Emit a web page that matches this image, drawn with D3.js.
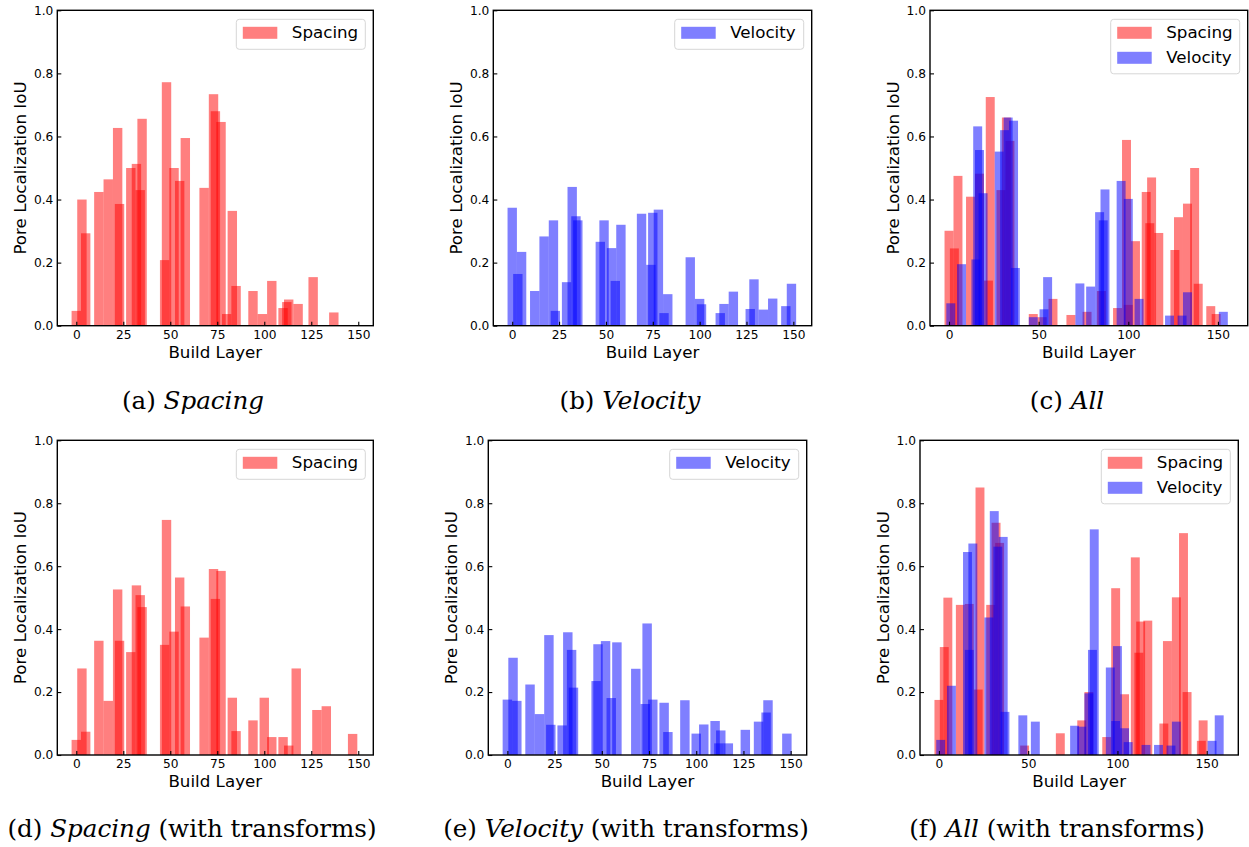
<!DOCTYPE html>
<html>
<head>
<meta charset="utf-8">
<script src="https://d3js.org/d3.v7.min.js"></script>
<style>
  body { margin: 0; background: #fff; }
  .tick text { font-family: "DejaVu Sans", sans-serif; font-size: 12.2px; fill: #000; }
</style>
</head>
<body>
<div id="my_dataviz"></div>
<script>
// (a) spacing
var spacingLayers = [0,3,5,12,17,22,23,29,32,34,35,47,48,52,55,58,68,73,74,77,80,83,85,94,99,104,110,112,113,118,126,137];
var spacingIoU = [0.047,0.40,0.293,0.424,0.464,0.627,0.386,0.50,0.513,0.43,0.656,0.208,0.772,0.50,0.459,0.595,0.437,0.734,0.68,0.646,0.037,0.364,0.126,0.11,0.037,0.142,0.056,0.075,0.083,0.069,0.154,0.042];

// (b) velocity
var velocityLayers = [0,3,5,12,17,22,23,29,32,34,35,47,49,53,55,58,69,74,75,78,81,83,95,100,101,111,113,118,127,129,134,139,146,149];
var velocityIoU = [0.374,0.164,0.234,0.11,0.283,0.334,0.047,0.138,0.44,0.347,0.334,0.266,0.334,0.246,0.142,0.32,0.355,0.193,0.358,0.368,0.04,0.1,0.217,0.085,0.068,0.04,0.069,0.108,0.053,0.147,0.051,0.086,0.062,0.133];

// (c) all
var allSpacingLayers = [0,3,5,12,17,22,23,29,32,34,47,52,58,68,77,85,94,99,100,104,110,112,113,117,126,128,133,137,139,146,149];
var allSpacingIoU = [0.301,0.245,0.475,0.409,0.482,0.143,0.725,0.43,0.66,0.586,0.037,0.027,0.085,0.034,0.044,0.11,0.056,0.589,0.066,0.268,0.424,0.325,0.47,0.294,0.24,0.344,0.387,0.5,0.133,0.062,0.037];
var allVelocityLayers = [1,7,15,16,17,19,28,31,33,36,37,47,53,55,73,79,84,86,87,96,100,106,123,130,133,153];
var allVelocityIoU = [0.071,0.195,0.21,0.632,0.557,0.42,0.552,0.62,0.66,0.65,0.183,0.027,0.052,0.154,0.134,0.124,0.36,0.334,0.432,0.459,0.402,0.085,0.032,0.032,0.106,0.044];

// (d) spacing with transforms
var tfSpacingLayers = [0,3,5,12,17,22,23,29,32,34,35,47,48,52,55,58,68,73,74,77,83,85,94,100,104,110,113,117,128,133,147];
var tfSpacingIoU = [0.048,0.275,0.074,0.363,0.172,0.526,0.363,0.327,0.539,0.508,0.47,0.35,0.747,0.392,0.564,0.472,0.373,0.591,0.496,0.585,0.182,0.076,0.11,0.182,0.057,0.057,0.03,0.275,0.143,0.155,0.067];

// (e) velocity with transforms
var tfVelocityLayers = [0,3,5,12,17,22,23,29,32,34,35,47,48,52,55,58,68,73,74,77,83,85,94,100,104,110,112,113,117,126,133,137,138,148];
var tfVelocityIoU = [0.176,0.309,0.172,0.224,0.13,0.381,0.096,0.094,0.39,0.334,0.214,0.235,0.352,0.362,0.181,0.358,0.274,0.162,0.418,0.176,0.166,0.073,0.174,0.068,0.097,0.108,0.037,0.078,0.037,0.08,0.106,0.135,0.174,0.068];

// (f) all with transforms
var tfAllSpacingLayers = [0,3,5,12,17,22,23,29,32,34,48,68,80,84,94,99,104,110,112,113,117,126,128,133,137,139,147,148];
var tfAllSpacingIoU = [0.175,0.343,0.5,0.477,0.48,0.208,0.85,0.477,0.738,0.674,0.03,0.069,0.11,0.2,0.057,0.53,0.193,0.628,0.325,0.424,0.427,0.1,0.362,0.501,0.705,0.2,0.045,0.11];
var tfAllVelocityLayers = [1,7,16,17,19,28,31,33,36,37,47,54,76,80,84,86,87,96,99,100,104,106,116,123,130,133,153,157];
var tfAllVelocityIoU = [0.048,0.22,0.645,0.334,0.672,0.437,0.775,0.662,0.693,0.137,0.126,0.106,0.093,0.09,0.196,0.334,0.717,0.278,0.108,0.346,0.085,0.041,0.032,0.032,0.03,0.106,0.045,0.126];

var yTicks = [0, 0.2, 0.4, 0.6, 0.8, 1.0];
var xTicksFine = [0, 25, 50, 75, 100, 125, 150];
var xTicksCoarse = [0, 50, 100, 150];
var barWidth = 5;

function zip(layers, values) {
  return layers.map(function(l, i) { return {layer: l, iou: values[i]}; });
}

var spacing = {name: "Spacing", color: "red"};
var velocity = {name: "Velocity", color: "blue"};

// panel placement (axes box in pixels) and series
var panels = [
  {left: 57.3, top: 10.3, w: 316, h: 315.4, dom: [-10.1, 158], ticks: xTicksFine,
   series: [[spacing, zip(spacingLayers, spacingIoU)]],
   cap: ["(a) ", "Spacing", ""], cx: 193, cy: 409},
  {left: 493.3, top: 10.3, w: 318.4, h: 315.4, dom: [-10.1, 159.8], ticks: xTicksFine,
   series: [[velocity, zip(velocityLayers, velocityIoU)]],
   cap: ["(b) ", "Velocity", ""], cx: 630, cy: 409},
  {left: 930, top: 10.3, w: 317.7, h: 315.4, dom: [-10.6, 166.6], ticks: xTicksCoarse,
   series: [[spacing, zip(allSpacingLayers, allSpacingIoU)], [velocity, zip(allVelocityLayers, allVelocityIoU)]],
   cap: ["(c) ", "All", ""], cx: 1067, cy: 409},
  {left: 57.3, top: 440.3, w: 316, h: 314.7, dom: [-10.1, 158], ticks: xTicksFine,
   series: [[spacing, zip(tfSpacingLayers, tfSpacingIoU)]],
   cap: ["(d) ", "Spacing", " (with transforms)"], cx: 192, cy: 837},
  {left: 488.3, top: 440.3, w: 318.4, h: 314.7, dom: [-10.1, 158.5], ticks: xTicksFine,
   series: [[velocity, zip(tfVelocityLayers, tfVelocityIoU)]],
   cap: ["(e) ", "Velocity", " (with transforms)"], cx: 626, cy: 837},
  {left: 920, top: 440.3, w: 318.3, h: 314.7, dom: [-10.6, 167.7], ticks: xTicksCoarse,
   series: [[spacing, zip(tfAllSpacingLayers, tfAllSpacingIoU)], [velocity, zip(tfAllVelocityLayers, tfAllVelocityIoU)]],
   cap: ["(f) ", "All", " (with transforms)"], cx: 1057, cy: 837}
];

var svg = d3.select("#my_dataviz")
  .append("svg")
    .attr("width", 1249)
    .attr("height", 847)
    .style("background", "#fff");

panels.forEach(function(p) {
  var g = svg.append("g")
    .attr("transform", "translate(" + p.left + "," + p.top + ")");

  var x = d3.scaleLinear().domain(p.dom).range([0, p.w]);
  var y = d3.scaleLinear().domain([0, 1]).range([p.h, 0]);

  // bars, half transparent so overlaps get darker
  p.series.forEach(function(s) {
    g.append("g")
      .selectAll("rect")
      .data(s[1])
      .enter()
      .append("rect")
        .attr("x", function(d) { return x(d.layer - barWidth / 2); })
        .attr("width", function(d) { return x(d.layer + barWidth / 2) - x(d.layer - barWidth / 2); })
        .attr("y", function(d) { return y(d.iou); })
        .attr("height", function(d) { return p.h - y(d.iou); })
        .style("fill", s[0].color)
        .style("fill-opacity", 0.5);
  });

  // axes with inward ticks
  g.append("g")
    .attr("transform", "translate(0," + p.h + ")")
    .call(d3.axisBottom(x).tickValues(p.ticks).tickSizeInner(-4).tickSizeOuter(0).tickPadding(4.5)
      .tickFormat(d3.format("d")))
    .call(function(a) { a.select(".domain").remove(); a.selectAll("line").attr("stroke-width", 1.1); });

  g.append("g")
    .call(d3.axisLeft(y).tickValues(yTicks).tickSizeInner(-4).tickSizeOuter(0).tickPadding(4)
      .tickFormat(d3.format(".1f")))
    .call(function(a) { a.select(".domain").remove(); a.selectAll("line").attr("stroke-width", 1.1); });

  // frame
  g.append("rect")
    .attr("width", p.w)
    .attr("height", p.h)
    .style("fill", "none")
    .style("stroke", "#000")
    .style("stroke-width", 1.4);

  // axis labels
  g.append("text")
    .attr("x", p.w / 2)
    .attr("y", p.h + 32)
    .attr("text-anchor", "middle")
    .style("font-family", "DejaVu Sans")
    .style("font-size", "16.7px")
    .text("Build Layer");

  g.append("text")
    .attr("transform", "translate(-31.5," + (p.h / 2) + ") rotate(-90)")
    .attr("text-anchor", "middle")
    .style("font-family", "DejaVu Sans")
    .style("font-size", "16.7px")
    .text("Pore Localization IoU");

  // legend
  var lw = 129, lh = 30 + (p.series.length - 1) * 24.5;
  var leg = g.append("g")
    .attr("transform", "translate(" + (p.w - lw - 8) + ",9)");
  leg.append("rect")
    .attr("width", lw)
    .attr("height", lh)
    .attr("rx", 3)
    .style("fill", "#fff")
    .style("fill-opacity", 0.8)
    .style("stroke", "#d6d6d6")
    .style("stroke-width", 1);
  p.series.forEach(function(s, i) {
    leg.append("rect")
      .attr("x", 6.5)
      .attr("y", 7.5 + i * 25)
      .attr("width", 34.5)
      .attr("height", 12)
      .style("fill", s[0].color)
      .style("fill-opacity", 0.5);
    leg.append("text")
      .attr("x", 55.5)
      .attr("y", 18.8 + i * 25)
      .style("font-family", "DejaVu Sans")
      .style("font-size", "16.7px")
      .text(s[0].name);
  });

  // subfigure caption
  var cap = svg.append("text")
    .attr("x", p.cx)
    .attr("y", p.cy)
    .attr("text-anchor", "middle")
    .style("font-family", "DejaVu Serif")
    .style("font-size", "24.6px");
  cap.append("tspan").text(p.cap[0]);
  cap.append("tspan").style("font-style", "italic").text(p.cap[1]);
  if (p.cap[2]) cap.append("tspan").text(p.cap[2]);
});
</script>
</body>
</html>
